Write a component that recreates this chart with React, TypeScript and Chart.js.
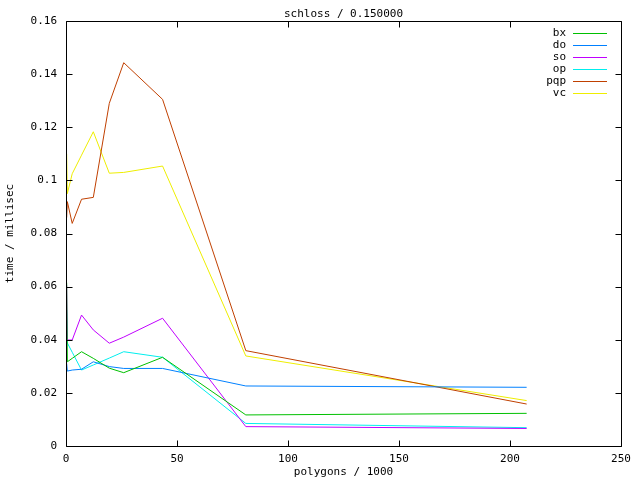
import React, { useEffect, useRef } from "react";
import { Chart, registerables } from "chart.js";

Chart.register(...registerables);

// polygon counts (thousands)
const polygons = [0.3, 0.6, 2.8, 7, 12.3, 19.5, 26, 43.5, 81, 207.5];

const seriesNames = ["bx", "do", "so", "op", "pqp", "vc"];
const bx = [0.0615, 0.0317, 0.033, 0.0355, 0.033, 0.0293, 0.0276, 0.0334, 0.0117, 0.0123];
const doS = [0.0311, 0.0282, 0.0286, 0.0289, 0.0317, 0.0299, 0.0292, 0.0292, 0.0226, 0.0221];
const so = [0.0606, 0.0399, 0.0399, 0.0493, 0.0437, 0.0387, 0.041, 0.0481, 0.0073, 0.0066];
const op = [0.0512, 0.0388, 0.0353, 0.0286, 0.0305, 0.0331, 0.0355, 0.0334, 0.0085, 0.0069];
const pqp = [0.086, 0.092, 0.0838, 0.0929, 0.0936, 0.129, 0.1443, 0.1305, 0.0359, 0.0158];
const vc = [0.11, 0.095, 0.1025, 0.1095, 0.1183, 0.1027, 0.103, 0.1054, 0.0339, 0.0171];
const seriesValues = [bx, doS, so, op, pqp, vc];
const seriesColors = ["#00c000", "#0080ff", "#c000ff", "#00eeee", "#c04000", "#eeee00"];

const xTicks = [0, 50, 100, 150, 200, 250];
const yTicks = [0, 0.02, 0.04, 0.06, 0.08, 0.1, 0.12, 0.14, 0.16];

const titleText = "schloss / 0.150000";
const xTitle = "polygons / 1000";
const yTitle = "time / millisec";

const FONT = "'DejaVu Sans Mono', 'Liberation Mono', monospace";

const gnuplotPlugin = {
  id: "gnuplotFrame",
  afterDraw(chart: any) {
    const { ctx, chartArea: a, scales } = chart;
    const L = Math.round(a.left) + 0.5;
    const R = Math.round(a.right) + 0.5;
    const T = Math.round(a.top) + 0.5;
    const B = Math.round(a.bottom) + 0.5;
    ctx.save();
    ctx.strokeStyle = "#000";
    ctx.lineWidth = 1;
    ctx.beginPath();
    ctx.rect(L, T, R - L, B - T);
    const tl = 6;
    for (const v of xTicks) {
      const x = Math.round(scales.x.getPixelForValue(v)) + 0.5;
      ctx.moveTo(x, B);
      ctx.lineTo(x, B - tl);
      ctx.moveTo(x, T);
      ctx.lineTo(x, T + tl);
    }
    for (const v of yTicks) {
      const y = Math.round(scales.y.getPixelForValue(v)) + 0.5;
      ctx.moveTo(L, y);
      ctx.lineTo(L + tl, y);
      ctx.moveTo(R, y);
      ctx.lineTo(R - tl, y);
    }
    ctx.stroke();

    ctx.fillStyle = "#000";
    ctx.font = `11px ${FONT}`;
    ctx.textBaseline = "middle";
    ctx.textAlign = "center";
    const cx = (a.left + a.right) / 2;
    ctx.fillText(titleText, cx, 14);
    ctx.fillText(xTitle, cx, 472);
    ctx.save();
    ctx.translate(10, (a.top + a.bottom) / 2);
    ctx.rotate(-Math.PI / 2);
    ctx.fillText(yTitle, 0, 0);
    ctx.restore();

    // legend
    seriesNames.forEach((name, i) => {
      const y = 33 + 12 * i;
      ctx.textAlign = "right";
      ctx.fillStyle = "#000";
      ctx.fillText(name, 566, y);
      ctx.fillStyle = seriesColors[i];
      ctx.fillRect(573, y, 34, 1);
    });
    ctx.restore();
  },
};

export default function App() {
  const ref = useRef<HTMLCanvasElement | null>(null);
  useEffect(() => {
    document.body.style.margin = "0";
    const canvas = ref.current;
    if (!canvas) return;
    const chart = new Chart(canvas, {
      type: "scatter",
      data: {
        datasets: seriesNames.map((name, i) => ({
          label: name,
          data: polygons.map((x, j) => ({ x, y: seriesValues[i][j] })),
          showLine: true,
          borderColor: seriesColors[i],
          backgroundColor: seriesColors[i],
          borderWidth: 1,
          pointRadius: 0,
          tension: 0,
        })),
      },
      options: {
        animation: false,
        responsive: false,
        maintainAspectRatio: false,
        layout: { padding: { top: 21, right: 19, left: 0, bottom: 0 } },
        plugins: {
          legend: { display: false },
          title: { display: false },
          tooltip: { enabled: false },
        },
        scales: {
          x: {
            type: "linear",
            min: 0,
            max: 250,
            grid: { display: false, drawTicks: false },
            border: { display: false },
            ticks: {
              stepSize: 50,
              color: "#000",
              font: { family: FONT, size: 11 },
              padding: 7,
              maxRotation: 0,
              autoSkip: false,
            },
            afterFit: (s: any) => {
              s.height = 34;
            },
          },
          y: {
            type: "linear",
            min: 0,
            max: 0.16,
            grid: { display: false, drawTicks: false },
            border: { display: false },
            ticks: {
              stepSize: 0.02,
              color: "#000",
              font: { family: FONT, size: 11 },
              padding: 9,
              callback: (v: any) => String(+Number(v).toFixed(4)),
            },
            afterFit: (s: any) => {
              s.width = 66;
            },
          },
        },
      },
      plugins: [gnuplotPlugin],
    });
    return () => chart.destroy();
  }, []);
  return (
    <div style={{ width: 640, height: 480, background: "#fff" }}>
      <canvas ref={ref} width={640} height={480} />
    </div>
  );
}
